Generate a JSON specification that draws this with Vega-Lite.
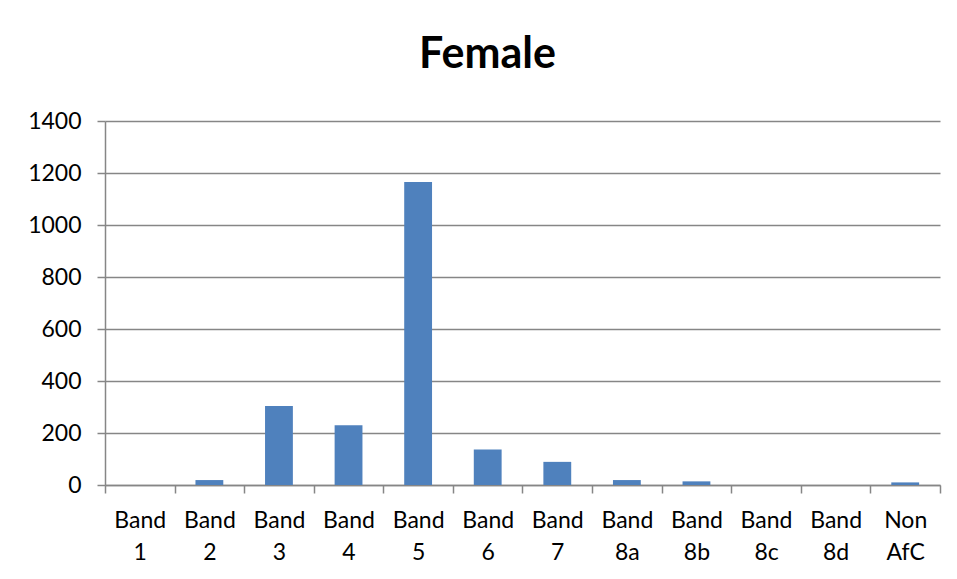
{
  "$schema": "https://vega.github.io/schema/vega-lite/v6.json",
  "width": 835,
  "height": 364,
  "autosize": {"type": "none"},
  "padding": {"left": 105, "top": 121, "right": 17, "bottom": 94},
  "background": "white",
  "title": {
    "text": "Female",
    "font": "Lato",
    "fontSize": 43,
    "fontWeight": "bold",
    "color": "#000000",
    "anchor": "middle",
    "frame": "group",
    "dx": -35,
    "offset": 33
  },
  "data": {
    "values": [
      {"band": "Band 1", "count": 0},
      {"band": "Band 2", "count": 19},
      {"band": "Band 3", "count": 304},
      {"band": "Band 4", "count": 230},
      {"band": "Band 5", "count": 1165},
      {"band": "Band 6", "count": 137},
      {"band": "Band 7", "count": 89},
      {"band": "Band 8a", "count": 19},
      {"band": "Band 8b", "count": 14},
      {"band": "Band 8c", "count": 0},
      {"band": "Band 8d", "count": 0},
      {"band": "Non AfC", "count": 10}
    ]
  },
  "mark": {"type": "bar", "color": "#4F81BD", "width": {"band": 0.4}},
  "encoding": {
    "x": {
      "field": "band",
      "type": "nominal",
      "sort": null,
      "scale": {"paddingInner": 0, "paddingOuter": 0},
      "axis": {
        "title": null,
        "labelAngle": 0,
        "labelExpr": "split(datum.label, ' ')",
        "labelLineHeight": 32,
        "tickBand": "extent",
        "grid": false,
        "tickSize": 8,
        "labelPadding": 16
      }
    },
    "y": {
      "field": "count",
      "type": "quantitative",
      "scale": {"domain": [0, 1400], "nice": false},
      "axis": {
        "title": null,
        "format": "d",
        "values": [0, 200, 400, 600, 800, 1000, 1200, 1400],
        "tickSize": 8,
        "labelPadding": 16,
        "grid": true
      }
    }
  },
  "config": {
    "view": {"stroke": null},
    "axis": {
      "labelFont": "Lato",
      "labelFontSize": 23,
      "labelColor": "#000000",
      "domainColor": "#868686",
      "tickColor": "#868686",
      "gridColor": "#868686",
      "domainWidth": 1.5,
      "tickWidth": 1.5,
      "gridWidth": 1.5
    }
  }
}
